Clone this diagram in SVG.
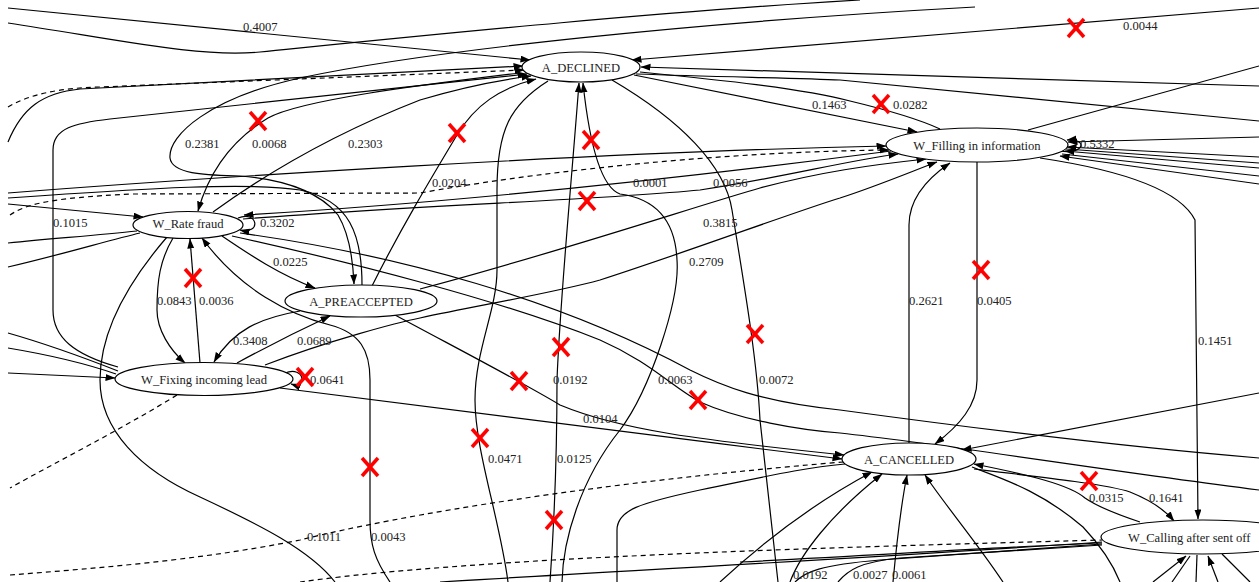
<svg xmlns="http://www.w3.org/2000/svg" width="1259" height="582" viewBox="0 0 1259 582">
<defs>
<marker id="ah" markerWidth="10" markerHeight="8" refX="9.5" refY="3.5" orient="auto" markerUnits="userSpaceOnUse"><path d="M0,0 L10,3.5 L0,7 z" fill="#000"/></marker>
</defs>
<style>
.e{fill:none;stroke:#000;stroke-width:1.2}
.d{stroke-dasharray:5,4}
.a{marker-end:url(#ah)}
.n ellipse{fill:#fff;stroke:#000;stroke-width:1.2}
text{font-family:"Liberation Serif","Times New Roman",serif;font-size:12.6px;fill:#222}
.n text{text-anchor:middle}
.x line{stroke:#f00;stroke-width:3.5}
</style>
<rect width="1259" height="582" fill="#fff"/>
<g id="connectors">
<path class="e a" d="M8,8 L530,60"/>
<path class="e" d="M8,23 C120,40 200,58 260,52 C400,38 650,12 860,0"/>
<path class="e a" d="M8,142 C22,108 42,93 80,89 L523,66"/>
<path class="e d a" d="M8,107 C30,94 60,88 100,87 L524,70"/>
<path class="e a" d="M118,367 C75,355 53,338 53,310 L53,150 C53,128 75,123 110,119 L527,74"/>
<path class="e a" d="M975,7 C700,22 430,50 300,78 C210,98 168,135 170,158 C172,175 210,175 240,176 C290,180 322,195 338,215 C350,235 353,260 354,284"/>
<path class="e a" d="M520,73 C420,85 300,100 268,118 C235,138 210,168 198,211"/>
<path class="e a" d="M213,212 C260,178 330,135 420,100 C460,88 500,80 531,76"/>
<path class="e a" d="M372,286 C400,230 430,180 457,135 C475,105 500,88 536,79"/>
<path class="e" d="M548,81 C510,105 497,130 497,190 L497,270 C497,310 475,350 475,400 C475,450 500,520 508,582"/>
<path class="e a" d="M550,582 C553,540 557,470 557,380 C560,300 570,200 579,83"/>
<path class="e a" d="M562,582 C563,540 580,480 620,430 C650,390 680,300 677,260 C675,215 650,198 620,194 C598,186 588,130 583,83"/>
<path class="e" d="M612,80 C680,120 725,165 732,210 C745,290 757,360 760,420 L778,582"/>
<path class="e a" d="M634,75 L917,132"/>
<path class="e" d="M640,72 C720,80 800,88 850,101 C900,113 925,122 940,129"/>
<path class="e a" d="M1259,8 L632,60"/>
<path class="e a" d="M1259,86 L641,67"/>
<path class="e" d="M636,74 C720,77 800,78 840,80 L1259,121"/>
<path class="e" d="M1028,130 L1259,66"/>
<path class="e a" d="M1060,151 C1085,155 1088,138 1067,140"/>
<path class="e a" d="M1259,137 L1068,142"/>
<path class="e a" d="M1259,157 L1067,147"/>
<path class="e" d="M1259,163 L1066,149"/>
<path class="e a" d="M1259,168 L1065,151"/>
<path class="e" d="M1259,176 L1062,154"/>
<path class="e a" d="M1259,184 L1060,156"/>
<path class="e a" d="M1040,158 C1120,170 1180,190 1195,220 L1198,519"/>
<path class="e a" d="M8,193 C200,178 600,152 886,146"/>
<path class="e d a" d="M10,215 C25,205 45,198 133,194 L420,193 C520,175 700,152 889,150"/>
<path class="e a" d="M243,219 C420,205 600,200 700,190 C780,178 850,160 898,154"/>
<path class="e a" d="M891,151 C760,168 500,200 244,215"/>
<path class="e a" d="M420,289 C550,255 700,205 760,188 C820,172 870,165 926,159"/>
<path class="e a" d="M265,365 C330,340 400,322 420,318 C480,305 553,293 600,280 C687,252 800,210 840,198 C880,185 915,170 937,162"/>
<path class="e a" d="M909,443 L909,225 C909,200 925,180 950,163"/>
<path class="e a" d="M977,162 L977,380 C977,405 960,425 935,444"/>
<path class="e a" d="M1259,393 L962,450"/>
<path class="e a" d="M1140,522 C1110,512 1095,505 1085,498 C1070,485 1030,475 974,464"/>
<path class="e a" d="M974,469 C1050,478 1110,485 1130,492 C1150,500 1165,510 1174,521"/>
<path class="e" d="M972,467 C1000,478 1040,490 1083,527 C1100,545 1112,562 1120,582"/>
<path class="e a" d="M720,582 C760,545 810,505 872,472"/>
<path class="e a" d="M790,582 C800,555 830,515 882,474"/>
<path class="e a" d="M893,582 C896,550 900,510 907,475"/>
<path class="e a" d="M1003,582 C975,540 945,505 925,475"/>
<path class="e a" d="M395,315 C460,350 520,381 560,405 C620,430 700,440 844,455"/>
<path class="e a" d="M280,388 C450,410 650,435 842,459"/>
<path class="e" d="M617,582 L617,530 C617,510 640,503 700,490 C760,478 800,468 845,464"/>
<path class="e d" d="M10,575 C100,568 200,560 300,540 C400,515 600,482 843,462"/>
<path class="e" d="M240,233 C400,255 560,300 690,370 C720,385 760,402 840,410 C950,425 1100,445 1259,458"/>
<path class="e" d="M232,236 C350,262 500,300 600,340 C650,362 670,385 700,402 C740,420 800,430 840,433 C950,445 1100,470 1259,490"/>
<path class="e a" d="M8,204 L143,217"/>
<path class="e" d="M8,243 C60,238 100,235 137,231"/>
<path class="e" d="M8,267 C60,255 110,240 140,233"/>
<path class="e" d="M8,333 C50,345 90,360 118,371"/>
<path class="e" d="M8,348 C50,355 90,365 116,374"/>
<path class="e a" d="M8,373 L115,378"/>
<path class="e" d="M167,237 C130,280 100,330 100,380 C100,430 140,470 200,497 C260,525 310,550 335,582"/>
<path class="e a" d="M173,238 C160,260 157,280 157,310 C157,330 170,350 185,363"/>
<path class="e a" d="M200,363 L190,239"/>
<path class="e a" d="M390,582 C375,560 370,545 370,520 L370,380 C370,350 360,333 330,325 C290,315 240,290 202,238"/>
<path class="e a" d="M222,236 C250,255 280,275 315,288"/>
<path class="e a" d="M300,311 C260,318 233,330 214,362"/>
<path class="e a" d="M237,363 C270,345 300,330 330,316"/>
<path class="e a" d="M285,373 C305,365 308,390 291,384"/>
<path class="e a" d="M238,218 C258,210 262,235 240,230"/>
<path class="e" d="M362,285 C362,235 350,200 300,190 C250,182 150,188 8,198"/>
<path class="e d" d="M177,395 C120,430 60,460 10,488"/>
<path class="e d" d="M300,582 C350,575 420,568 553,560 C700,552 840,547 1102,540"/>
<path class="e" d="M440,582 C600,572 840,560 1102,542"/>
<path class="e" d="M740,562 C880,555 1000,547 1102,543"/>
<path class="e" d="M795,582 C805,572 820,565 880,560 L1102,544"/>
<path class="e" d="M838,582 C848,570 860,562 900,558 L1102,545"/>
<path class="e a" d="M1153,582 L1186,556"/>
<path class="e" d="M1172,582 L1190,556"/>
<path class="e" d="M1196,582 L1197,555"/>
<path class="e a" d="M1218,582 L1208,556"/>
<path class="e" d="M1250,582 L1222,554"/>
<g id="edge-labels">
<text x="243" y="31">0.4007</text>
<text x="1123" y="30">0.0044</text>
<text x="185" y="148">0.2381</text>
<text x="252" y="148">0.0068</text>
<text x="348" y="148">0.2303</text>
<text x="812" y="109">0.1463</text>
<text x="893" y="109">0.0282</text>
<text x="1080" y="148">0.5332</text>
<text x="432" y="187">0.0204</text>
<text x="633" y="187">0.0001</text>
<text x="713" y="187">0.0056</text>
<text x="53" y="227">0.1015</text>
<text x="260" y="227">0.3202</text>
<text x="273" y="266">0.0225</text>
<text x="157" y="305">0.0843</text>
<text x="199" y="305">0.0036</text>
<text x="233" y="345">0.3408</text>
<text x="297" y="345">0.0689</text>
<text x="310" y="384">0.0641</text>
<text x="703" y="227">0.3815</text>
<text x="689" y="266">0.2709</text>
<text x="909" y="305">0.2621</text>
<text x="977" y="305">0.0405</text>
<text x="1198" y="345">0.1451</text>
<text x="553" y="384">0.0192</text>
<text x="658" y="384">0.0063</text>
<text x="759" y="384">0.0072</text>
<text x="583" y="423">0.0104</text>
<text x="488" y="463">0.0471</text>
<text x="557" y="463">0.0125</text>
<text x="1089" y="502">0.0315</text>
<text x="1149" y="502">0.1641</text>
<text x="307" y="541">0.1011</text>
<text x="371" y="541">0.0043</text>
<text x="793" y="579">0.0192</text>
<text x="853" y="579">0.0027</text>
<text x="892" y="579">0.0061</text>
</g>
</g>
<g id="node-a-declined" class="n"><ellipse cx="581" cy="67" rx="59" ry="15"/><text x="581" y="71.5">A_DECLINED</text></g>
<g id="node-w-filling" class="n"><ellipse cx="977" cy="145" rx="91" ry="17"/><text x="977" y="149.5">W_Filling in information</text></g>
<g id="node-w-rate-fraud" class="n"><ellipse cx="188" cy="225" rx="55" ry="13.5"/><text x="188" y="228">W_Rate fraud</text></g>
<g id="node-a-preaccepted" class="n"><ellipse cx="361" cy="301" rx="76" ry="16"/><text x="361" y="305.5">A_PREACCEPTED</text></g>
<g id="node-w-fixing" class="n"><ellipse cx="204" cy="379" rx="89" ry="16.5"/><text x="204" y="383.5">W_Fixing incoming lead</text></g>
<g id="node-a-cancelled" class="n"><ellipse cx="909" cy="459" rx="67" ry="16"/><text x="909" y="463.5">A_CANCELLED</text></g>
<g id="node-w-calling" class="n"><ellipse cx="1203" cy="537" rx="102" ry="17"/><text x="1128" y="541.5" style="text-anchor:start">W_Calling after sent off</text></g>
<g id="marks" class="x">
<line x1="1068" y1="19" x2="1084" y2="37"/><line x1="1084" y1="19" x2="1068" y2="37"/>
<line x1="250" y1="112" x2="266" y2="130"/><line x1="266" y1="112" x2="250" y2="130"/>
<line x1="449" y1="124" x2="465" y2="142"/><line x1="465" y1="124" x2="449" y2="142"/>
<line x1="583" y1="131" x2="599" y2="149"/><line x1="599" y1="131" x2="583" y2="149"/>
<line x1="873" y1="95" x2="889" y2="113"/><line x1="889" y1="95" x2="873" y2="113"/>
<line x1="579" y1="192" x2="595" y2="210"/><line x1="595" y1="192" x2="579" y2="210"/>
<line x1="185" y1="269" x2="201" y2="287"/><line x1="201" y1="269" x2="185" y2="287"/>
<line x1="973" y1="261" x2="989" y2="279"/><line x1="989" y1="261" x2="973" y2="279"/>
<line x1="553" y1="338" x2="569" y2="356"/><line x1="569" y1="338" x2="553" y2="356"/>
<line x1="747" y1="325" x2="763" y2="343"/><line x1="763" y1="325" x2="747" y2="343"/>
<line x1="511" y1="372" x2="527" y2="390"/><line x1="527" y1="372" x2="511" y2="390"/>
<line x1="297" y1="368" x2="313" y2="386"/><line x1="313" y1="368" x2="297" y2="386"/>
<line x1="690" y1="391" x2="706" y2="409"/><line x1="706" y1="391" x2="690" y2="409"/>
<line x1="472" y1="429" x2="488" y2="447"/><line x1="488" y1="429" x2="472" y2="447"/>
<line x1="362" y1="458" x2="378" y2="476"/><line x1="378" y1="458" x2="362" y2="476"/>
<line x1="1081" y1="472" x2="1097" y2="490"/><line x1="1097" y1="472" x2="1081" y2="490"/>
<line x1="546" y1="511" x2="562" y2="529"/><line x1="562" y1="511" x2="546" y2="529"/>
</g>
</svg>
